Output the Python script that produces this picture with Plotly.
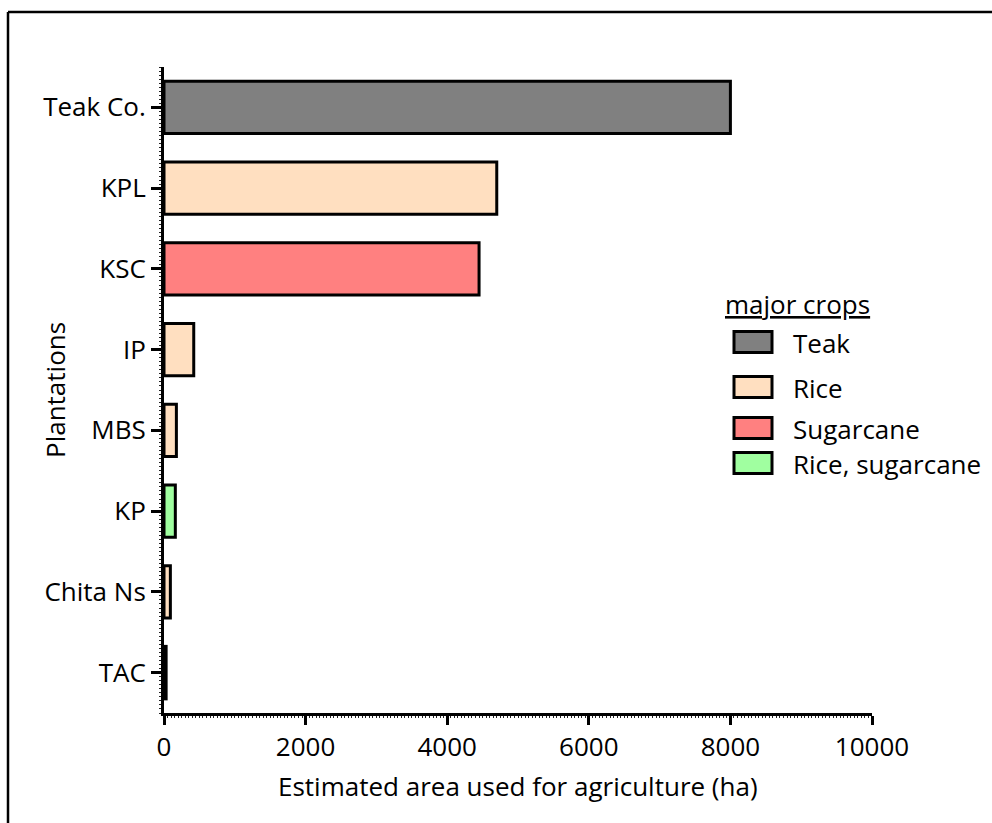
import plotly.graph_objects as go

# Plantations, listed top to bottom
plantations = ["Teak Co.", "KPL", "KSC", "IP", "MBS", "KP", "Chita Ns", "TAC"]
area_ha = [8000, 4700, 4450, 420, 175, 160, 90, 30]
major_crop = ["Teak", "Rice", "Sugarcane", "Rice", "Rice", "Rice, sugarcane", "Rice", "Rice"]

# Legend entries and their fill colours
crop_names = ["Teak", "Rice", "Sugarcane", "Rice, sugarcane"]
crop_colors = ["#808080", "#FFDFC0", "#FF8080", "#A0FFA0"]

x_ticks = [0, 2000, 4000, 6000, 8000, 10000]

FONT = "Open Sans"
FS = 26
W, H = 992, 823
L, R, T, B = 164, 120, 67, 110
PW, PH = W - L - R, H - T - B

color_of = dict(zip(crop_names, crop_colors))
n = len(plantations)
ypos = [n - 1 - i for i in range(n)]


def px_x(px):
    return (px - L) / PW


def px_y(py):
    return (H - B - py) / PH


fig = go.Figure()
fig.add_trace(go.Bar(
    orientation="h",
    x=area_ha,
    y=ypos,
    width=0.65,
    marker=dict(color=[color_of[c] for c in major_crop],
                line=dict(color="black", width=3)),
    showlegend=False,
))

shapes = []
annotations = []

# outer frame (left and top edges)
shapes.append(dict(type="line", xref="paper", yref="paper",
                   x0=px_x(8), x1=px_x(8), y0=px_y(830), y1=px_y(12),
                   line=dict(color="black", width=2.5)))
shapes.append(dict(type="line", xref="paper", yref="paper",
                   x0=px_x(8), x1=px_x(1000), y0=px_y(12), y1=px_y(12),
                   line=dict(color="black", width=2.5)))

# legend
annotations.append(dict(xref="paper", yref="paper", x=px_x(797), y=px_y(304),
                        text="<u>major crops</u>", showarrow=False,
                        xanchor="center", yanchor="middle",
                        font=dict(family=FONT, size=FS, color="black")))
sw_y = [342, 387, 428, 463]
for name, col, cy in zip(crop_names, crop_colors, sw_y):
    shapes.append(dict(type="rect", xref="paper", yref="paper",
                       x0=px_x(734), x1=px_x(772),
                       y0=px_y(cy + 10.5), y1=px_y(cy - 10.5),
                       fillcolor=col, line=dict(color="black", width=3)))
    annotations.append(dict(xref="paper", yref="paper", x=px_x(791), y=px_y(cy + 1),
                            text=name, showarrow=False,
                            xanchor="left", yanchor="middle",
                            font=dict(family=FONT, size=FS, color="black")))

# axis titles
annotations.append(dict(xref="paper", yref="paper", x=0.5, y=px_y(786),
                        text="Estimated area used for agriculture (ha)",
                        showarrow=False, xanchor="center", yanchor="middle",
                        font=dict(family=FONT, size=FS, color="black")))
annotations.append(dict(xref="paper", yref="paper", x=px_x(55), y=0.5,
                        text="Plantations", textangle=-90,
                        showarrow=False, xanchor="center", yanchor="middle",
                        font=dict(family=FONT, size=FS, color="black")))

fig.update_layout(
    width=W, height=H,
    margin=dict(l=L, r=R, t=T, b=B, pad=0),
    paper_bgcolor="white", plot_bgcolor="white",
    font=dict(family=FONT, size=FS, color="black"),
    shapes=shapes,
    annotations=annotations,
    xaxis=dict(
        range=[0, 10000], tickvals=x_ticks, ticktext=[str(v) for v in x_ticks],
        showgrid=False, zeroline=False,
        showline=True, linecolor="black", linewidth=3,
        ticks="outside", ticklen=9, tickwidth=3, tickcolor="black",
        minor=dict(dtick=50, ticks="outside", ticklen=2, tickwidth=1, tickcolor="#222"),
        tickfont=dict(family=FONT, size=FS),
    ),
    yaxis=dict(
        range=[-0.5, n - 0.5], tickvals=ypos, ticktext=plantations,
        showgrid=False, zeroline=False,
        showline=True, linecolor="black", linewidth=3,
        ticks="outside", ticklen=10, tickwidth=3, tickcolor="black",
        minor=dict(dtick=0.05, tick0=0, ticks="outside", ticklen=2, tickwidth=1, tickcolor="#222"),
        tickfont=dict(family=FONT, size=FS),
    ),
)

fig.write_html("out.html")
